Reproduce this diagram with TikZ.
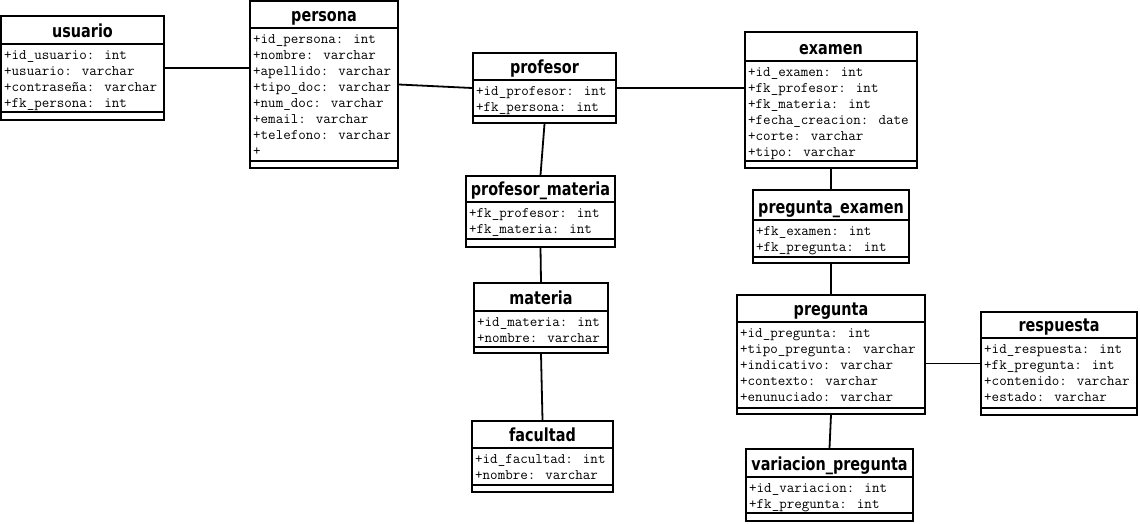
\documentclass[tikz,border=0pt]{standalone}
\usepackage{fontspec}
\newfontfamily\titlefont[FakeStretch=0.8]{DejaVu Sans}
\usetikzlibrary{fit,calc}

\tikzset{
  caja/.style={draw, line width=1.8pt, inner sep=0pt},
  titulo/.style={font=\titlefont\bfseries\fontsize{18}{20}\selectfont, anchor=base, inner sep=0pt},
  campo/.style={font=\ttfamily\fontsize{14.6}{16}\selectfont, anchor=base west, inner sep=0pt},
  enlace/.style={line width=1.8pt}
}

% #1 nombre, (#2,#3) esquina sup., (#4,#5) esquina inf., #6 linea titulo, #7 linea atributos, #8 titulo, #9 atributos
\newcommand{\tabla}[9]{%
  \node[caja, fit={(#2,#3) (#4,#5)}] (#1) {};
  \draw[line width=1.8pt] (#2,#6) -- (#4,#6); %titulo
  \draw[line width=1.8pt] (#2,#7) -- (#4,#7); %atributos
  \node[titulo] (#1-titulo) at ({(#2+#4)/2},#6-7) {#8};
  \foreach \a [count=\i] in {#9}
    \node[campo] (#1-\i) at (#2+3,{#6+16*\i-0.5}) {\a};
}

\begin{document}
\begin{tikzpicture}[x=1pt,y=-1pt]

	\useasboundingbox (0,0) rectangle (1140,523);

	\tabla{usuario}{1}{16}{164}{120}{44}{112}{usuario}{+id\_usuario: int,+usuario: varchar,+contraseña: varchar,+fk\_persona: int}
	\tabla{persona}{250}{1}{398}{168}{28}{161}{persona}{+id\_persona: int,+nombre: varchar,+apellido: varchar,+tipo\_doc: varchar,+num\_doc: varchar,+email: varchar,+telefono: varchar,+}
	\tabla{profesor}{473}{53}{616}{123}{80}{116}{profesor}{+id\_profesor: int,+fk\_persona: int}
	\tabla{profmat}{466}{176}{615}{247}{202}{239}{profesor\_materia}{+fk\_profesor: int,+fk\_materia: int}
	\tabla{materia}{474}{283}{608}{353}{311}{347}{materia}{+id\_materia: int,+nombre: varchar}
	\tabla{facultad}{472}{421}{613}{492}{448}{485}{facultad}{+id\_facultad: int,+nombre: varchar}
	\tabla{examen}{745}{32}{917}{168}{61}{161}{examen}{+id\_examen: int,+fk\_profesor: int,+fk\_materia: int,+fecha\_creacion: date,+corte: varchar,+tipo: varchar}
	\tabla{pregexam}{753}{190}{909}{263}{220}{257}{pregunta\_examen}{+fk\_examen: int,+fk\_pregunta: int}
	\tabla{pregunta}{737}{295}{925}{414}{322}{408}{pregunta}{+id\_pregunta: int,+tipo\_pregunta: varchar,+indicativo: varchar,+contexto: varchar,+enunuciado: varchar}
	\tabla{respuesta}{981}{312}{1137}{415}{338}{408}{respuesta}{+id\_respuesta: int,+fk\_pregunta: int,+contenido: varchar,+estado: varchar}
	\tabla{variacion}{746}{449}{913}{521}{477}{513}{variacion\_pregunta}{+id\_variacion: int,+fk\_pregunta: int}

	\draw[enlace] (usuario.east) -- (usuario.east -| persona.west);
	\draw[enlace] (persona.east) -- (profesor.west);
	\draw[enlace] (profesor.east) -- (profesor.east -| examen.west);
	\draw[enlace] (profesor.south) -- (profmat.north);
	\draw[enlace] (profmat.south) -- (materia.north);
	\draw[enlace] (materia.south) -- (facultad.north);
	\draw[enlace] (examen.south) -- (pregexam.north);
	\draw[enlace] (pregexam.south) -- (pregunta.north);
	\draw[enlace] (respuesta.west -| pregunta.east) -- (respuesta.west);
	\draw[enlace] (pregunta.south) -- (variacion.north);

\end{tikzpicture}
\end{document}
